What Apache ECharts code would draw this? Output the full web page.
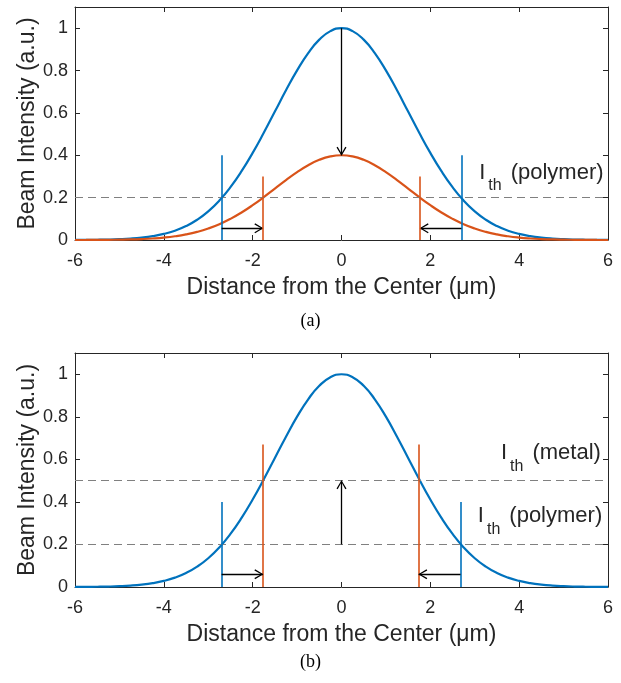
<!DOCTYPE html>
<html>
<head>
<meta charset="utf-8">
<script src="https://cdn.jsdelivr.net/npm/echarts@6/dist/echarts.min.js"></script>
<style>html,body{margin:0;padding:0;background:#fff}#c{width:621px;height:683px}</style>
</head>
<body>
<div id="c"></div>
<script>
// ---- data ----
const distance = [-6,-5.75,-5.5,-5.25,-5,-4.75,-4.5,-4.25,-4,-3.75,-3.5,-3.25,-3,-2.75,-2.5,-2.25,-2,-1.75,-1.5,-1.25,-1,-0.75,-0.5,-0.25,0,0.25,0.5,0.75,1,1.25,1.5,1.75,2,2.25,2.5,2.75,3,3.25,3.5,3.75,4,4.25,4.5,4.75,5,5.25,5.5,5.75,6];
const beamFull = [0.0003,0.0006,0.0012,0.0022,0.0039,0.0066,0.0111,0.0181,0.0286,0.0439,0.0657,0.0956,0.1353,0.1862,0.2494,0.3247,0.4111,0.5063,0.6065,0.7066,0.8007,0.8825,0.9460,0.9862,1,0.9862,0.9460,0.8825,0.8007,0.7066,0.6065,0.5063,0.4111,0.3247,0.2494,0.1862,0.1353,0.0956,0.0657,0.0439,0.0286,0.0181,0.0111,0.0066,0.0039,0.0022,0.0012,0.0006,0.0003];
const beamReduced = [0.0001,0.0002,0.0005,0.0009,0.0016,0.0026,0.0044,0.0072,0.0114,0.0176,0.0263,0.0382,0.0541,0.0745,0.0998,0.1299,0.1644,0.2025,0.2426,0.2826,0.3203,0.3530,0.3784,0.3945,0.4,0.3945,0.3784,0.3530,0.3203,0.2826,0.2426,0.2025,0.1644,0.1299,0.0998,0.0745,0.0541,0.0382,0.0263,0.0176,0.0114,0.0072,0.0044,0.0026,0.0016,0.0009,0.0005,0.0002,0.0001];
const thresholdPolymer = 0.2;
const thresholdMetal = 0.5;
// (a) edge markers
const aBlueEdges = [-2.7, 2.7];
const aRedEdges = [-1.77, 1.77];
const aBlueMarkerTop = 0.4;
const aRedMarkerTop = 0.3;
// (b) edge markers
const bBlueEdges = [-2.7, 2.68];
const bRedEdges = [-1.77, 1.74];
const bBlueMarkerTop = 0.4;
const bRedMarkerTop = 0.67;
const aArrowY = 0.055;
const bArrowY = 0.06;
const xTicks = [-6, -4, -2, 0, 2, 4, 6];
const yTicks = [0, 0.2, 0.4, 0.6, 0.8, 1];

const BLUE = '#0072BD', RED = '#D95319', INK = '#262626', GRAY = '#808080';
const FONT = 'Liberation Sans, Arial, Helvetica, sans-serif';
const CHEV = 'path://M0,9 L5,0 L10,9 L8.8,9.8 L5,2.4 L1.2,9.8 Z';

function pairs(ys) { return distance.map((x, i) => [x, ys[i]]); }

const chart = echarts.init(document.getElementById('c'), null, {renderer: 'canvas'});

function xAxes(gi) {
  const base = {
    type: 'value', gridIndex: gi, min: -6, max: 6, interval: 2,
    splitLine: {show: false},
    axisLine: {show: true, onZero: false, lineStyle: {color: INK, width: 1}},
    axisTick: {show: true, inside: true, length: 5, lineStyle: {color: INK}},
  };
  return [
    Object.assign({}, base, {
      position: 'bottom',
      name: 'Distance from the Center (\u03BCm)', nameLocation: 'middle', nameGap: 36,
      nameMoveOverlap: false,
      nameTextStyle: {fontFamily: FONT, fontSize: 23, color: INK},
      axisLabel: {show: true, margin: 12, fontFamily: FONT, fontSize: 18, color: INK,
        formatter: v => xTicks.includes(v) ? String(v) : ''}
    }),
    Object.assign({}, base, {position: 'top', axisLabel: {show: false}})
  ];
}
function yAxes(gi) {
  const base = {
    type: 'value', gridIndex: gi, min: 0, max: 1.1, interval: 0.2,
    splitLine: {show: false},
    axisLine: {show: true, onZero: false, lineStyle: {color: INK, width: 1}},
    axisTick: {show: true, inside: true, length: 5, lineStyle: {color: INK}},
  };
  return [
    Object.assign({}, base, {
      position: 'left',
      name: 'Beam Intensity (a.u.)', nameLocation: 'middle', nameGap: 36,
      nameMoveOverlap: false,
      nameTextStyle: {fontFamily: FONT, fontSize: 23, color: INK},
      axisLabel: {show: true, margin: 7, fontFamily: FONT, fontSize: 18, color: INK,
        showMaxLabel: false,
        formatter: v => yTicks.some(t => Math.abs(t - v) < 1e-9) ? String(+v.toFixed(1)) : ''}
    }),
    Object.assign({}, base, {position: 'right', axisLabel: {show: false}})
  ];
}

function vline(x, top, color) {
  return [{coord: [x, 0], symbol: 'none'}, {coord: [x, top], symbol: 'none', lineStyle: {color: color, width: 1.6, type: 'solid'}}];
}
function arrow(x1, y1, x2, y2) {
  return [{coord: [x1, y1], symbol: 'none'},
          {coord: [x2, y2], symbol: CHEV, symbolSize: [10, 9], symbolOffset: [0, 4],
           lineStyle: {color: '#000', width: 1.3, type: 'solid'}, itemStyle: {color: '#000'}}];
}
function hdash(y) {
  return [{coord: [-6, y], symbol: 'none'}, {coord: [6, y], symbol: 'none', lineStyle: {color: GRAY, width: 1, type: [8, 5]}}];
}
function ithLabel(x, y, word) {
  return {
    coord: [x, y], symbol: 'rect', symbolSize: 0, itemStyle: {color: 'rgba(0,0,0,0)'},
    label: {
      show: true, position: [0, 0], align: 'right', verticalAlign: 'top',
      formatter: '{i|I}{s|th}{p|' + word + '}',
      rich: {
        i: {fontFamily: FONT, fontSize: 22, color: INK, verticalAlign: 'top'},
        s: {fontFamily: FONT, fontSize: 16, color: INK, verticalAlign: 'top', padding: [16, 0, 0, 3]},
        p: {fontFamily: FONT, fontSize: 22, color: INK, verticalAlign: 'top', padding: [0, 0, 0, 9]}
      }
    }
  };
}

const lineCommon = {type: 'line', showSymbol: false, symbol: 'none', smooth: true, animation: false, z: 3};

const option = {
  animation: false,
  backgroundColor: '#fff',
  grid: [
    {left: 75, right: 13, top: 7, height: 233},
    {left: 75, right: 13, top: 353, height: 234}
  ],
  xAxis: [...xAxes(0), ...xAxes(1)],
  yAxis: [...yAxes(0), ...yAxes(1)],
  graphic: [
    {type: 'text', left: 'center', top: 312, style: {text: '(a)', font: '18px "Liberation Serif", "Times New Roman", serif', fill: '#000'}},
    {type: 'text', left: 'center', top: 653, style: {text: '(b)', font: '18px "Liberation Serif", "Times New Roman", serif', fill: '#000'}}
  ],
  series: [
    // ---- (a) ----
    Object.assign({}, lineCommon, {
      name: 'full-a', xAxisIndex: 0, yAxisIndex: 0, data: pairs(beamFull),
      lineStyle: {color: BLUE, width: 2.2}, itemStyle: {color: BLUE},
      markLine: {silent: true, animation: false, symbol: 'none', label: {show: false},
        lineStyle: {color: BLUE, width: 1.6, type: 'solid'},
        data: [hdash(thresholdPolymer),
               ...aBlueEdges.map(x => vline(x, aBlueMarkerTop, BLUE)),
               arrow(aBlueEdges[0], aArrowY, aRedEdges[0], aArrowY),
               arrow(aBlueEdges[1], aArrowY, aRedEdges[1], aArrowY),
               arrow(0, 1, 0, 0.4)]},
      markPoint: {silent: true, animation: false, data: [ithLabel(5.9, 0.37, '(polymer)')]}
    }),
    Object.assign({}, lineCommon, {
      name: 'reduced-a', xAxisIndex: 0, yAxisIndex: 0, data: pairs(beamReduced),
      lineStyle: {color: RED, width: 2.2}, itemStyle: {color: RED}, z: 4,
      markLine: {silent: true, animation: false, symbol: 'none', label: {show: false},
        lineStyle: {color: RED, width: 1.6, type: 'solid'},
        data: aRedEdges.map(x => vline(x, aRedMarkerTop, RED))}
    }),
    // ---- (b) ----
    Object.assign({}, lineCommon, {
      name: 'full-b', xAxisIndex: 2, yAxisIndex: 2, data: pairs(beamFull),
      lineStyle: {color: BLUE, width: 2.2}, itemStyle: {color: BLUE},
      markLine: {silent: true, animation: false, symbol: 'none', label: {show: false},
        lineStyle: {color: BLUE, width: 1.6, type: 'solid'},
        data: [hdash(thresholdPolymer), hdash(thresholdMetal),
               ...bBlueEdges.map(x => vline(x, bBlueMarkerTop, BLUE)),
               ...bRedEdges.map(x => vline(x, bRedMarkerTop, RED)),
               arrow(bBlueEdges[0], bArrowY, bRedEdges[0], bArrowY),
               arrow(bBlueEdges[1], bArrowY, bRedEdges[1], bArrowY),
               arrow(0, thresholdPolymer, 0, thresholdMetal)]},
      markPoint: {silent: true, animation: false, data: [
        ithLabel(5.84, 0.68, '(metal)'),
        ithLabel(5.87, 0.385, '(polymer)')]}
    })
  ]
};
chart.setOption(option);
</script>
</body>
</html>
